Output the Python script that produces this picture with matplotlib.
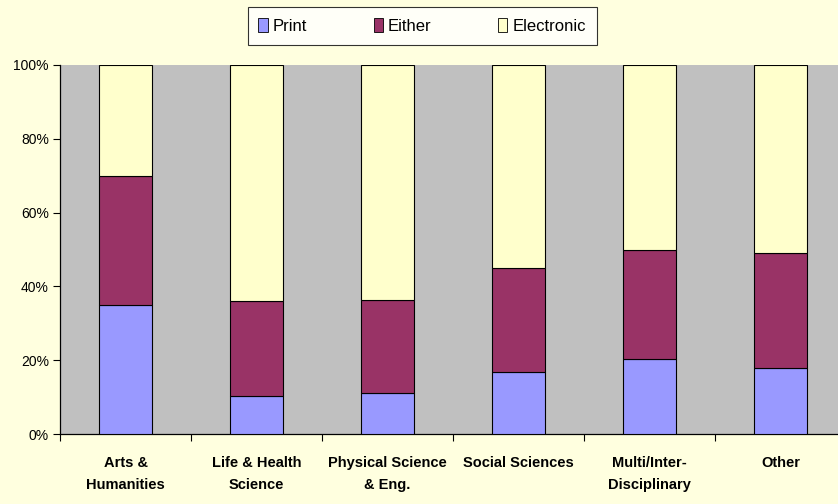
import matplotlib
matplotlib.use("Agg")
import matplotlib.pyplot as plt
from matplotlib.patches import Patch
from matplotlib import font_manager

categories = ["Arts &\nHumanities", "Life & Health\nScience", "Physical Science\n& Eng.",
              "Social Sciences", "Multi/Inter-\nDisciplinary", "Other"]
print_vals = [35.0, 10.3, 11.1, 16.8, 20.3, 17.9]
either_vals = [34.9, 25.7, 25.2, 28.2, 29.6, 31.2]
electronic_vals = [100 - p - e for p, e in zip(print_vals, either_vals)]
yticks = [0, 20, 40, 60, 80, 100]
ytick_labels = ["0%", "20%", "40%", "60%", "80%", "100%"]

names = {f.name for f in font_manager.fontManager.ttflist}
narrow = "Liberation Sans Narrow" if "Liberation Sans Narrow" in names else "Liberation Sans"

bg = "#FFFFDF"
c_print, c_either, c_elec = "#9999FF", "#993366", "#FFFFCC"

fig = plt.figure(figsize=(8.38, 5.04), dpi=100, facecolor=bg)
ax = fig.add_axes([60/838, 1-434/504, 786/838, (434-65)/504])
ax.set_facecolor("#C0C0C0")

x = list(range(len(categories)))
w = 0.40
ax.bar(x, print_vals, w, color=c_print, edgecolor="black", linewidth=0.8, zorder=3)
ax.bar(x, either_vals, w, bottom=print_vals, color=c_either, edgecolor="black", linewidth=0.8, zorder=3)
bot2 = [p + e for p, e in zip(print_vals, either_vals)]
ax.bar(x, electronic_vals, w, bottom=bot2, color=c_elec, edgecolor="black", linewidth=0.8, zorder=3)

ax.set_xlim(-0.5, len(categories) - 0.5)
ax.set_ylim(0, 100)
ax.set_yticks(yticks)
ax.set_yticklabels(ytick_labels, fontfamily="Liberation Sans", fontsize=10)
ax.set_xticks([i + 0.5 for i in range(-1, len(categories))])
ax.set_xticklabels([])
ax.set_xticks(x, minor=True)
ax.set_xticklabels(categories, minor=True, fontfamily=narrow, fontsize=10.5,
                   fontweight="bold", linespacing=1.75, va="top")
ax.tick_params(axis="x", which="minor", length=0, pad=16)
ax.tick_params(axis="x", which="major", length=5, direction="out", width=0.8)
ax.tick_params(axis="y", length=5, direction="out", width=0.8, pad=3)
for s in ["top", "right"]:
    ax.spines[s].set_visible(False)
for s in ["left", "bottom"]:
    ax.spines[s].set_linewidth(0.9)
    ax.spines[s].set_color("black")

handles = [Patch(facecolor=c_print, edgecolor="black", linewidth=0.6),
           Patch(facecolor=c_either, edgecolor="black", linewidth=0.6),
           Patch(facecolor=c_elec, edgecolor="black", linewidth=0.6)]
leg = fig.legend(handles, ["Print", "Either", "Electronic"], loc="center",
                 bbox_to_anchor=(422/838, 1-26/504), ncol=3, frameon=True, fancybox=False,
                 prop={"family": narrow, "size": 12}, handlelength=0.55, handleheight=0.85,
                 handletextpad=0.3, columnspacing=4.0, borderpad=0.65, borderaxespad=0)
leg.get_frame().set_edgecolor("black")
leg.get_frame().set_linewidth(0.8)
leg.get_frame().set_facecolor("white")

fig.savefig("out.png", dpi=100, facecolor=bg)
